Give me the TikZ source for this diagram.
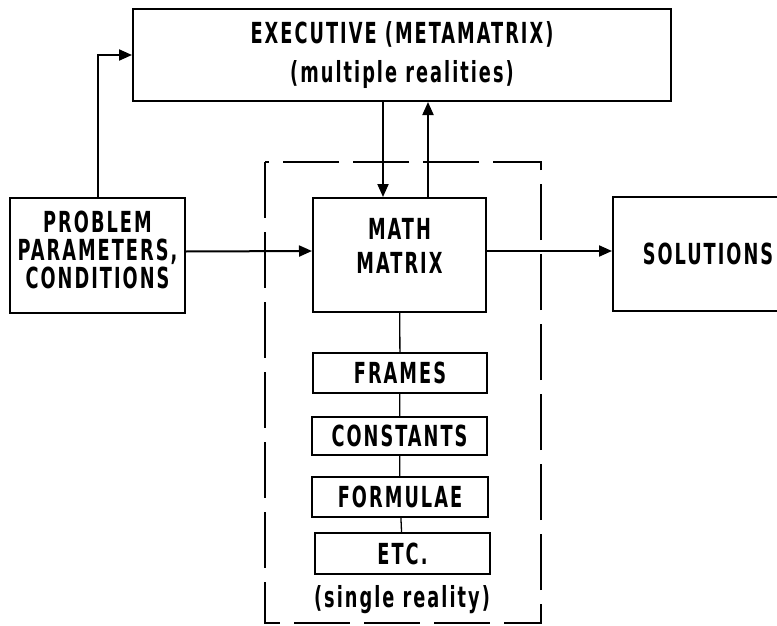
\documentclass[tikz,border=0pt]{standalone}
\usepackage{fontspec}
\setmainfont{DejaVu Sans Condensed}[FakeStretch=0.68,LetterSpace=7]
\usetikzlibrary{arrows.meta}

\tikzset{
  blk/.style={draw,line width=2pt,inner sep=0pt,align=center,
    font=\bfseries\fontsize{29}{28}\selectfont},
  arr/.style={line width=2pt,-{Triangle[length=13pt,width=11pt]}},
  lnk/.style={line width=1.3pt}
}

\begin{document}
\begin{tikzpicture}[x=1pt,y=-1pt]
            \useasboundingbox (0,0) rectangle (777,626);
            \clip (0,0) rectangle (777,626);

            \node[blk,minimum width=538pt,minimum height=92pt] (exec) at (402,55)
                {EXECUTIVE (METAMATRIX)\\[11pt]{(multiple realities)}};
            \node[blk,minimum width=175pt,minimum height=115pt,text depth=12pt] (problem) at (97.5,255.5)
                {PROBLEM\\PARAMETERS,\\CONDITIONS};
            \node[blk,minimum width=173pt,minimum height=114pt,text depth=18pt,
                font=\bfseries\fontsize{29}{34}\selectfont] (math) at (399.5,255)
                {MATH\\MATRIX};
            \node[blk,minimum width=190pt,minimum height=114pt] (solutions) at (708,254) {SOLUTIONS};

            \node[blk,minimum width=174pt,minimum height=40pt] (frames) at (400,373) {FRAMES};
            \node[blk,minimum width=175pt,minimum height=38pt] (constants) at (399.5,436) {CONSTANTS};
            \node[blk,minimum width=176pt,minimum height=40pt] (formulae) at (400,497) {FORMULAE};
            \node[blk,minimum width=175pt,minimum height=41pt] (etc) at (402.5,553.5) {ETC.};
            \node[font=\bfseries\fontsize{29}{28}\selectfont] (single) at (402,600) {(single reality)};

            \draw[line width=2pt,dash pattern=on 56pt off 14pt] (265,162) rectangle (541,623);

            \draw[arr] (problem.north) |- (exec.west);
            \draw[arr] ([yshift=4pt]problem.east) -- ([yshift=4pt]math.west);
            \draw[arr] ([yshift=4pt]math.east) -- ([yshift=4pt]math.east -| solutions.west);
            \draw[arr] ([xshift=-16.5pt]math.north |- exec.south) -- ([xshift=-16.5pt]math.north);
            \draw[arr] ([xshift=28.5pt]math.north) -- ([xshift=28.5pt]math.north |- exec.south);

            \draw[lnk] (math) -- (frames);
            \draw[lnk] (frames) -- (constants);
            \draw[lnk] (constants) -- (formulae);
            \draw[lnk] (formulae) -- (etc);
        \end{tikzpicture}
\end{document}
